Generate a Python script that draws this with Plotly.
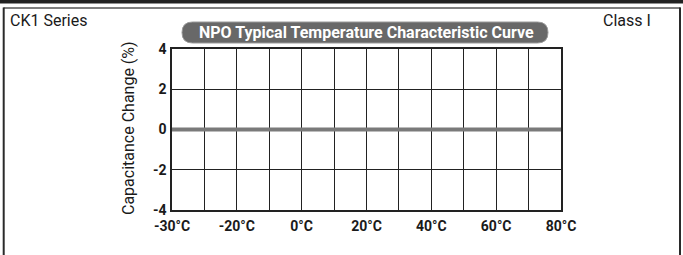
import plotly.graph_objects as go

# ---- data ----
temp_labels = ["-30°C", "", "-20°C", "", "0°C", "", "20°C", "", "40°C", "", "60°C", "", "80°C"]
temp_positions = [0, 1, 2, 3, 4, 5, 6, 7, 8, 9, 10, 11, 12]
curve_x = [0, 2, 4, 6, 8, 10, 12]
cap_change = [0, 0, 0, 0, 0, 0, 0]
y_ticks = [-4, -2, 0, 2, 4]
y_tick_labels = ["-4", "-2", "0", "2", "4"]

W, H = 683, 255
L, R, T, B = 172, 561, 49, 210  # plot area pixels

def px(x):
    return (x - L) / (R - L)

def py(y):
    return (B - y) / (B - T)

FONT = "Roboto"

fig = go.Figure()
fig.add_trace(go.Scatter(x=curve_x, y=cap_change, mode="lines",
                         line=dict(color="#7a7a7a", width=4), hoverinfo="skip",
                         showlegend=False))

fig.update_layout(
    width=W, height=H,
    margin=dict(l=L, r=W - R, t=T, b=H - B),
    paper_bgcolor="white", plot_bgcolor="white",
    font=dict(family=FONT, color="#1a1a1a"),
    xaxis=dict(range=[0, 12], tickvals=temp_positions, ticktext=temp_labels,
               showgrid=True, gridcolor="#222222", gridwidth=1.2,
               showline=True, linecolor="#222222", linewidth=1.5, mirror=True,
               zeroline=False, ticks="", fixedrange=True, ticklabelstandoff=2,
               tickfont=dict(family=FONT, size=14, color="#1a1a1a", weight="bold")),
    yaxis=dict(range=[-4, 4], tickvals=y_ticks, ticktext=y_tick_labels,
               showgrid=True, gridcolor="#222222", gridwidth=1.2,
               showline=True, linecolor="#222222", linewidth=1.5, mirror=True,
               zeroline=False, ticks="", fixedrange=True, ticklabelstandoff=1,
               tickfont=dict(family=FONT, size=14, color="#1a1a1a", weight="bold")),
)

shapes = []
# top black bar
shapes.append(dict(type="rect", xref="paper", yref="paper",
                   x0=px(0), x1=px(683), y0=py(0), y1=py(3.5),
                   fillcolor="#222222", line=dict(width=0), layer="above"))
# frame: top line, left and right borders
shapes.append(dict(type="line", xref="paper", yref="paper",
                   x0=px(3.5), x1=px(680.5), y0=py(8), y1=py(8),
                   line=dict(color="#555555", width=1.5)))
shapes.append(dict(type="line", xref="paper", yref="paper",
                   x0=px(3.7), x1=px(3.7), y0=py(7.5), y1=py(256),
                   line=dict(color="#2a2a2a", width=2)))
shapes.append(dict(type="line", xref="paper", yref="paper",
                   x0=px(680), x1=px(680), y0=py(7.5), y1=py(256),
                   line=dict(color="#2a2a2a", width=2)))
# title pill (pixel-sized path anchored at its left centre)
pw, ph = 366, 21
r = ph / 2
path = (f"M {r},{-r} L {pw - r},{-r} Q {pw},{-r} {pw},0 Q {pw},{r} {pw - r},{r} "
        f"L {r},{r} Q 0,{r} 0,0 Q 0,{-r} {r},{-r} Z")
shapes.append(dict(type="path", xref="paper", yref="paper",
                   xsizemode="pixel", ysizemode="pixel",
                   xanchor=px(182), yanchor=py(32.5), path=path,
                   fillcolor="#686868", line=dict(color="#9a9a9a", width=1)))
fig.update_layout(shapes=shapes)

annotations = [
    dict(text="NPO Typical Temperature Characteristic Curve", x=px(366), y=py(32.5),
         xref="paper", yref="paper", showarrow=False, xanchor="center", yanchor="middle",
         font=dict(family=FONT, size=16, color="white", weight="bold")),
    dict(text="CK1 Series", x=px(8), y=py(20), xref="paper", yref="paper",
         showarrow=False, xanchor="left", yanchor="middle",
         font=dict(family=FONT, size=16, color="#1a1a1a")),
    dict(text="Class I", x=px(653), y=py(20), xref="paper", yref="paper",
         showarrow=False, xanchor="right", yanchor="middle",
         font=dict(family=FONT, size=16, color="#1a1a1a")),
    dict(text="Capacitance Change (%)", x=px(128), y=py(128), xref="paper", yref="paper",
         showarrow=False, xanchor="center", yanchor="middle", textangle=-90,
         font=dict(family=FONT, size=16, color="#1a1a1a")),
]
fig.update_layout(annotations=annotations)

fig.write_html("out.html", config={"displayModeBar": False},
               post_script="document.body.style.margin='0';document.body.style.padding='0';")
